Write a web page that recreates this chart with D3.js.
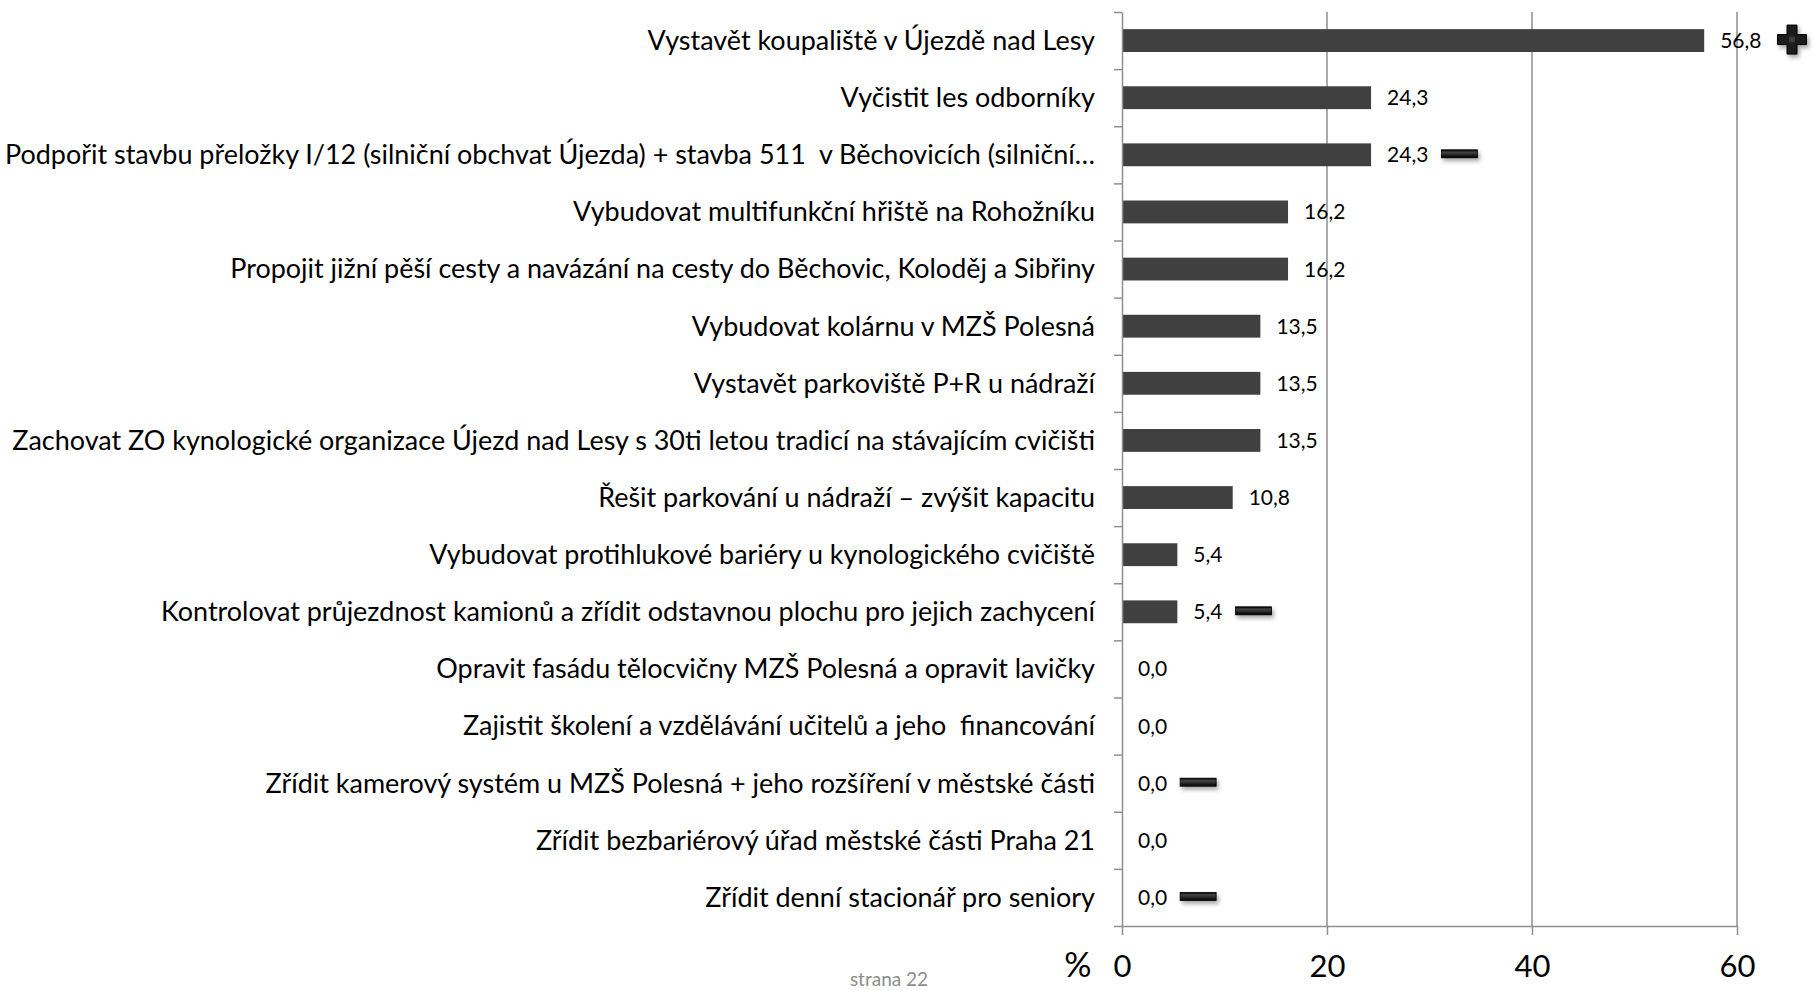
<!DOCTYPE html>
<html>
<head>
<meta charset="utf-8">
<script src="https://cdn.jsdelivr.net/npm/d3@7"></script>
<style>
  body { margin: 0; background: #ffffff; }
  svg text { font-family: Lato, "Open Sans", sans-serif; white-space: pre; }
</style>
</head>
<body>
<svg id="viz"></svg>
<script>
var width = 1814;
var height = 990;

// data
var categories = [
  "Vystavět koupaliště v Újezdě nad Lesy",
  "Vyčistit les odborníky",
  "Podpořit stavbu přeložky I/12 (silniční obchvat Újezda) + stavba 511  v Běchovicích (silniční…",
  "Vybudovat multifunkční hřiště na Rohožníku",
  "Propojit jižní pěší cesty a navázání na cesty do Běchovic, Koloděj a Sibřiny",
  "Vybudovat kolárnu v MZŠ Polesná",
  "Vystavět parkoviště P+R u nádraží",
  "Zachovat ZO kynologické organizace Újezd nad Lesy s 30ti letou tradicí na stávajícím cvičišti",
  "Řešit parkování u nádraží – zvýšit kapacitu",
  "Vybudovat protihlukové bariéry u kynologického cvičiště",
  "Kontrolovat průjezdnost kamionů a zřídit odstavnou plochu pro jejich zachycení",
  "Opravit fasádu tělocvičny MZŠ Polesná a opravit lavičky",
  "Zajistit školení a vzdělávání učitelů a jeho  financování",
  "Zřídit kamerový systém u MZŠ Polesná + jeho rozšíření v městské části",
  "Zřídit bezbariérový úřad městské části Praha 21",
  "Zřídit denní stacionář pro seniory"
];
var values = [56.8, 24.3, 24.3, 16.2, 16.2, 13.5, 13.5, 13.5, 10.8, 5.4, 5.4, 0.0, 0.0, 0.0, 0.0, 0.0];
var trends = ["+", "", "-", "", "", "", "", "", "", "", "-", "", "", "-", "", "-"];
var xTicks = [0, 20, 40, 60];

var rows = categories.map(function (c, i) {
  return { name: c, value: values[i], trend: trends[i] };
});

var svg = d3.select("#viz")
    .attr("width", width)
    .attr("height", height);

var defs = svg.append("defs");
var shadow = defs.append("filter").attr("id", "shadow")
    .attr("x", "-30%").attr("y", "-60%").attr("width", "170%").attr("height", "260%");
shadow.append("feDropShadow")
    .attr("dx", 2).attr("dy", 3).attr("stdDeviation", 2)
    .attr("flood-color", "#000").attr("flood-opacity", 0.35);

var bevel = defs.append("linearGradient").attr("id", "bevel")
    .attr("x1", 0).attr("y1", 0).attr("x2", 0).attr("y2", 1);
bevel.append("stop").attr("offset", "0%").attr("stop-color", "#000");
bevel.append("stop").attr("offset", "30%").attr("stop-color", "#444");
bevel.append("stop").attr("offset", "60%").attr("stop-color", "#2a2a2a");
bevel.append("stop").attr("offset", "100%").attr("stop-color", "#000");

var x = d3.scaleLinear()
    .domain([0, 60])
    .range([1122, 1737]);

var y = d3.scaleBand()
    .domain(categories)
    .range([12, 926])
    .paddingInner(0.6)
    .paddingOuter(0.3);

var yEdges = d3.scaleLinear()
    .domain([0, categories.length])
    .range([12, 926]);

var gridColor = "#8f8f8f";

//gridlines
svg.append("g")
    .selectAll("line")
    .data(xTicks.filter(function (d) { return d > 0; }))
    .enter().append("line")
    .attr("x1", function (d) { return x(d); })
    .attr("x2", function (d) { return x(d); })
    .attr("y1", 12)
    .attr("y2", 926)
    .style("stroke", gridColor)
    .style("stroke-width", 1.5);

//bars
svg.append("g")
    .selectAll("rect")
    .data(rows)
    .enter().append("rect")
    .attr("x", x(0))
    .attr("y", function (d) { return y(d.name); })
    .attr("width", function (d) { return x(d.value) - x(0); })
    .attr("height", y.bandwidth())
    .attr("fill", "#404040");

//axes
svg.append("g")
    .attr("transform", "translate(" + x(0) + ",0)")
    .call(d3.axisLeft(yEdges)
        .tickValues(d3.range(0, categories.length + 1))
        .tickFormat("")
        .tickSize(8)
        .tickSizeOuter(0));

var xAxis = svg.append("g")
    .attr("transform", "translate(0,926)")
    .call(d3.axisBottom(x)
        .tickValues(xTicks)
        .tickSize(9)
        .tickSizeOuter(0)
        .tickPadding(20));

svg.selectAll(".domain, .tick line")
    .style("stroke", gridColor)
    .style("stroke-width", 1.5);

xAxis.selectAll("text")
    .style("font-size", "31px")
    .style("fill", "#000");

//category labels, sized so the "Zachovat..." line spans like the original
var labels = svg.append("g")
    .selectAll("text")
    .data(rows)
    .enter().append("text")
    .attr("x", 1095)
    .attr("y", function (d) { return y(d.name) + y.bandwidth() / 2; })
    .attr("dy", "0.35em")
    .attr("text-anchor", "end")
    .style("font-size", "24px")
    .style("fill", "#000")
    .text(function (d) { return d.name; });

var refLen = labels.filter(function (d, i) { return i === 7; }).node().getComputedTextLength();
labels.style("font-size", (24 * 1083 / refLen) + "px");

//value labels
var valueLabels = svg.append("g")
    .selectAll("text")
    .data(rows)
    .enter().append("text")
    .attr("x", function (d) { return x(d.value) + 16; })
    .attr("y", function (d) { return y(d.name) + y.bandwidth() / 2; })
    .attr("dy", "0.36em")
    .style("font-size", "21px")
    .style("fill", "#000")
    .text(function (d) { return d3.format(".1f")(d.value).replace(".", ","); });

//trend markers
valueLabels.each(function (d) {
  if (!d.trend) return;
  var cy = y(d.name) + y.bandwidth() / 2 - 1;
  var g = svg.append("g").attr("filter", "url(#shadow)");
  if (d.trend === "-") {
    var x0 = x(d.value) + 16 + this.getComputedTextLength() + 13;
    g.append("rect")
      .attr("x", x0).attr("y", cy - 4)
      .attr("width", 36).attr("height", 8)
      .attr("fill", "url(#bevel)")
      .attr("stroke", "#000").attr("stroke-width", 0.8);
  } else {
    var s = 29, t = 10;
    var cx = x(d.value) + 16 + this.getComputedTextLength() + 16 + s / 2;
    var p = d3.path();
    p.moveTo(cx - t / 2, cy - s / 2);
    p.lineTo(cx + t / 2, cy - s / 2);
    p.lineTo(cx + t / 2, cy - t / 2);
    p.lineTo(cx + s / 2, cy - t / 2);
    p.lineTo(cx + s / 2, cy + t / 2);
    p.lineTo(cx + t / 2, cy + t / 2);
    p.lineTo(cx + t / 2, cy + s / 2);
    p.lineTo(cx - t / 2, cy + s / 2);
    p.lineTo(cx - t / 2, cy + t / 2);
    p.lineTo(cx - s / 2, cy + t / 2);
    p.lineTo(cx - s / 2, cy - t / 2);
    p.lineTo(cx - t / 2, cy - t / 2);
    p.closePath();
    g.append("path")
      .attr("d", p.toString())
      .attr("fill", "#1a1a1a")
      .attr("stroke", "#000").attr("stroke-width", 1);
    g.append("rect")
      .attr("x", cx - t / 2 + 2).attr("y", cy - t / 2 + 2)
      .attr("width", t - 4).attr("height", t - 4)
      .attr("fill", "#3c3c3c");
  }
});

//axis unit and page note
svg.append("text")
    .attr("x", 1078)
    .attr("y", 977)
    .attr("text-anchor", "middle")
    .style("font-size", "34px")
    .style("fill", "#000")
    .text("%");

svg.append("text")
    .attr("x", 889)
    .attr("y", 986)
    .attr("text-anchor", "middle")
    .style("font-size", "19px")
    .style("fill", "#8c8c8c")
    .text("strana 22");
</script>
</body>
</html>
